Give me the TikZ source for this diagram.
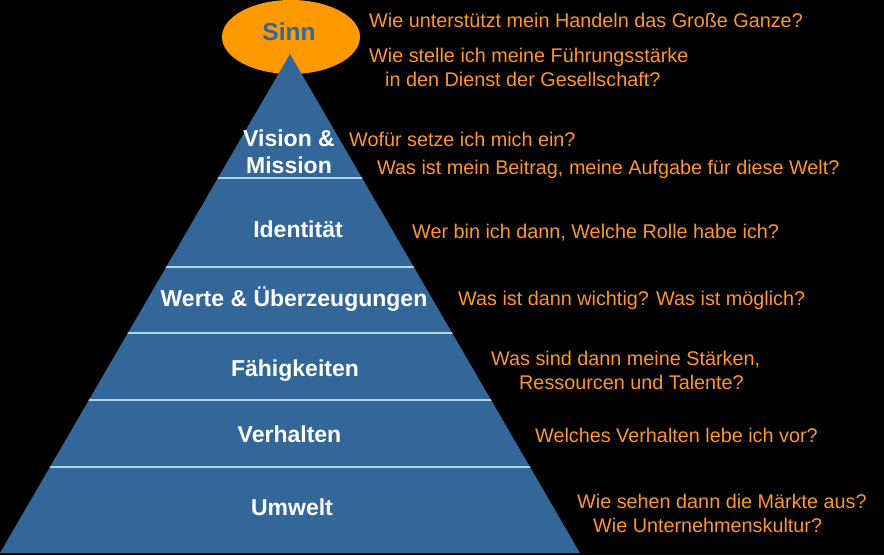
\documentclass[tikz,border=0pt]{standalone}
\usepackage{fontspec}
\setmainfont{Liberation Sans}
\usepackage{xcolor}
\usepackage{tikz}

\definecolor{pyrblue}{RGB}{51,102,153}
\definecolor{sinnorange}{RGB}{255,153,0}
\definecolor{askorange}{RGB}{255,150,40}
\definecolor{bandline}{RGB}{175,212,228}

\begin{document}
\begin{tikzpicture}[x=1pt, y=-1pt,
    level/.style={anchor=base, inner sep=0pt, text=white,
        font=\fontsize{23}{27}\selectfont\bfseries, align=center},
    ask/.style={anchor=base west, inner sep=0pt, text=askorange,
        font=\fontsize{19.8}{24}\selectfont, align=left}]
        % background
        \fill[black] (0,0) rectangle (884,555);

        % top ellipse and pyramid
        \fill[sinnorange] (291,37) ellipse [x radius=69, y radius=37];
        \node[level, text=pyrblue, font=\fontsize{24.5}{28}\selectfont\bfseries] (sinn) at (289,40) {Sinn};
        \fill[pyrblue] (290,54) -- (580,553) -- (0,553) -- cycle;
        \begin{scope}
            \clip (290,54) -- (580,553) -- (0,553) -- cycle;
            \foreach \yy in {178,267,333,400,467}
                \draw[bandline, line width=1.6pt] (0,\yy) -- (884,\yy);
        \end{scope}

        % levels (base = last line)
        \node[level] (vision) at (289,173) {Vision \&\\Mission};
        \node[level] (ident) at (298,237) {Identität};
        \node[level] (werte) at (294,306) {Werte \& Überzeugungen};
        \node[level] (faehig) at (295,376) {Fähigkeiten};
        \node[level] (verhalten) at (289.5,442) {Verhalten};
        \node[level] (umwelt) at (292,515) {Umwelt};

        % questions
        \node[ask] (qsinna) at (369,27) {Wie unterstützt mein Handeln das Große Ganze?};
        \node[ask] (qsinnb) at (369,86) {Wie stelle ich meine Führungsstärke\\\hspace*{16pt}in den Dienst der Gesellschaft?};
        \node[ask] (qvisiona) at (349,146) {Wofür setze ich mich ein?};
        \node[ask] (qvisionb) at (377,174) {Was ist mein Beitrag, meine Aufgabe für diese Welt?};
        \node[ask] (qident) at (412,238) {Wer bin ich dann, Welche Rolle habe ich?};
        \node[ask] (qwerte) at (458,305) {Was ist dann wichtig? Was ist möglich?};
        \node[ask] (qfaehig) at (491,389) {Was sind dann meine Stärken,\\\hspace*{28pt}Ressourcen und Talente?};
        \node[ask] (qverhalten) at (535,442) {Welches Verhalten lebe ich vor?};
        \node[ask] (qumwelt) at (577,532) {Wie sehen dann die Märkte aus?\\\hspace*{16pt}Wie Unternehmenskultur?};
    \end{tikzpicture}
\end{document}
